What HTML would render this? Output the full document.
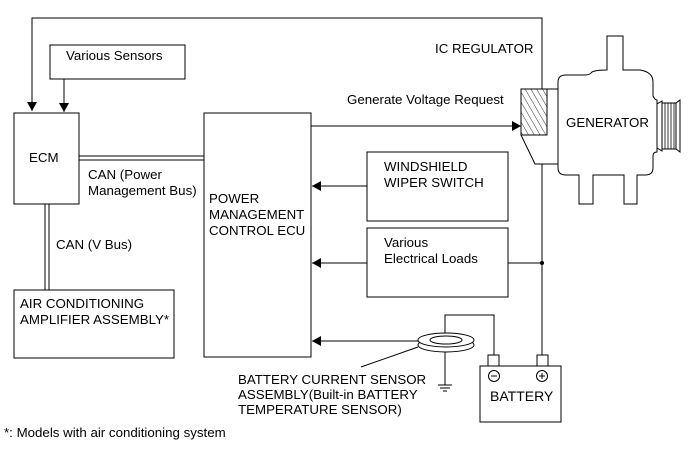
<!DOCTYPE html>
<html><head><style>body{margin:0;background:#fff}svg{display:block}text{font-family:"Liberation Sans",Arial,sans-serif;font-size:13.3px;fill:#000}</style></head><body>
<svg width="691" height="465" viewBox="0 0 691 465" xmlns="http://www.w3.org/2000/svg">
<defs>
<marker id="a" markerWidth="10" markerHeight="10" refX="9" refY="5" orient="auto" markerUnits="userSpaceOnUse"><path d="M0,0 L9,5 L0,10 z" fill="#000"/></marker>
<pattern id="h" width="5" height="5" patternUnits="userSpaceOnUse" patternTransform="rotate(-30)"><line x1="0" y1="0" x2="0" y2="5" stroke="#000" stroke-width="0.8"/></pattern>
</defs>
<g fill="none" stroke="#000" stroke-width="1">
<polyline points="32,111 32,18 542,18 542,89"/>
<line x1="32" y1="104" x2="32" y2="111" marker-end="url(#a)"/>
<rect x="50" y="45" width="135" height="34"/>
<line x1="64" y1="79" x2="64" y2="112" marker-end="url(#a)"/>
<rect x="14" y="113" width="65" height="91"/>
<rect x="204" y="113" width="107" height="244"/>
<line x1="79" y1="156" x2="204" y2="156"/><line x1="79" y1="160" x2="204" y2="160"/>
<line x1="45" y1="204" x2="45" y2="290"/><line x1="49" y1="204" x2="49" y2="290"/>
<rect x="14" y="290" width="160" height="68"/>
<line x1="311" y1="126" x2="521" y2="126" marker-end="url(#a)"/>
<rect x="367" y="152" width="141" height="69"/>
<line x1="367" y1="186" x2="312" y2="186" marker-end="url(#a)"/>
<rect x="367" y="228" width="141" height="69"/>
<line x1="367" y1="263" x2="312" y2="263" marker-end="url(#a)"/>
<line x1="508" y1="263" x2="542" y2="263"/>
<line x1="542" y1="164" x2="542" y2="355"/>
<line x1="440" y1="341" x2="312" y2="341" marker-end="url(#a)"/>
<rect x="521" y="89" width="26" height="46" fill="url(#h)"/>
<polyline points="547,89 558,89"/>
<polyline points="521,135 535,164 558,164"/>
<path d="M558,82 Q558,75 566,75 L585,75 Q590,75 592,72 Q596,70 607,70 L607,36 L623,36 L623,70 L640,70 Q653,72 653,82 L653,96 Q655,100 657,100 L657,152 Q653,152 653,156 L653,168 Q653,175 645,175 L637,175 L637,204 L624,204 L624,175 L593,175 L593,204 L579,204 L579,175 L566,175 Q558,175 558,168 Z" fill="#fff"/>
<path d="M657,104 L662,101 L662,151 L657,148"/>
<rect x="662" y="103" width="14" height="46" fill="#fff"/>
<g stroke-width="0.8"><line x1="665" y1="103" x2="665" y2="149"/><line x1="668" y1="103" x2="668" y2="149"/><line x1="671" y1="103" x2="671" y2="149"/><line x1="674" y1="103" x2="674" y2="149"/></g>
<path d="M676,103 L680,100 L680,152 L676,149"/>
<polyline points="445,345 445,315 494,315 494,355"/>
<rect x="488" y="355" width="11" height="11" fill="#fff"/>
<rect x="537" y="355" width="11" height="11" fill="#fff"/>
<ellipse cx="446" cy="345" rx="28" ry="7" fill="#fff"/>
<ellipse cx="446" cy="340" rx="28" ry="7" fill="#fff"/>
<ellipse cx="446" cy="340" rx="16" ry="4"/>
<line x1="445" y1="352" x2="445" y2="385"/>
<line x1="438" y1="385" x2="452" y2="385"/><line x1="440" y1="388" x2="450" y2="388"/><line x1="443" y1="391" x2="447" y2="391"/>
<line x1="418" y1="347" x2="361" y2="367"/>
<rect x="480" y="366" width="81" height="56" fill="#fff"/>
<circle cx="494" cy="376" r="5.5"/><line x1="491" y1="376" x2="497" y2="376"/>
<circle cx="542" cy="376" r="5.5"/><line x1="539" y1="376" x2="545" y2="376"/><line x1="542" y1="373" x2="542" y2="379"/>
</g>
<circle cx="542" cy="263" r="2" fill="#000"/>
<text x="66" y="60">Various Sensors</text>
<text x="29" y="162">ECM</text>
<text x="88" y="179">CAN (Power</text>
<text x="88" y="195">Management Bus)</text>
<text x="56" y="249">CAN (V Bus)</text>
<text x="20" y="308">AIR CONDITIONING</text>
<text x="20" y="324">AMPLIFIER ASSEMBLY*</text>
<text x="209" y="203">POWER</text>
<text x="209" y="219">MANAGEMENT</text>
<text x="209" y="235">CONTROL ECU</text>
<text x="435" y="53">IC REGULATOR</text>
<text x="347" y="104">Generate Voltage Request</text>
<text x="566" y="127">GENERATOR</text>
<text x="384" y="171">WINDSHIELD</text>
<text x="384" y="187">WIPER SWITCH</text>
<text x="384" y="247">Various</text>
<text x="384" y="263">Electrical Loads</text>
<text x="238" y="384">BATTERY CURRENT SENSOR</text>
<text x="238" y="399">ASSEMBLY(Built-in BATTERY</text>
<text x="238" y="414">TEMPERATURE SENSOR)</text>
<text x="490" y="401" style="font-size:14px">BATTERY</text>
<text x="4" y="437">*: Models with air conditioning system</text>
</svg>
</body></html>
